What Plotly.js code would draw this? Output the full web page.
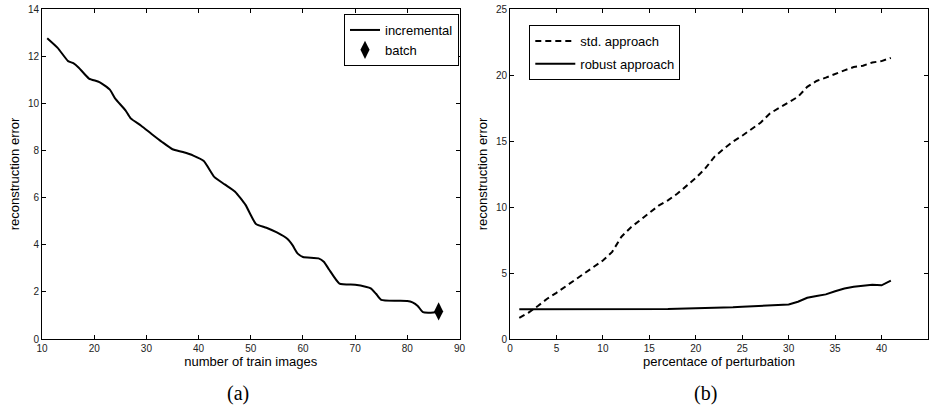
<!DOCTYPE html>
<html>
<head>
<meta charset="utf-8">
<script src="https://cdn.plot.ly/plotly-3.0.1.min.js"></script>
<style>
html,body{margin:0;padding:0;background:#fff;}
#chart{width:933px;height:407px;}
</style>
</head>
<body>
<div id="chart"></div>
<script>
// (a) incremental vs batch
const trainImages = [11,13,15,16,17,19,21,23,24,26,27,29,31,33,35,37,39,41,43,45,47,49,50,51,53,55,57,58,59,60,63,64,65,67,70,72,73,74,75,78,80,81,82,83,85,86];
const incrementalError = [12.76,12.35,11.79,11.70,11.52,11.05,10.90,10.58,10.21,9.70,9.36,9.05,8.70,8.36,8.05,7.93,7.78,7.55,6.88,6.56,6.25,5.69,5.26,4.88,4.72,4.52,4.25,3.98,3.62,3.48,3.42,3.28,2.95,2.35,2.30,2.22,2.15,1.92,1.66,1.62,1.61,1.55,1.40,1.14,1.12,1.17];
const batchX = [86];
const batchY = [1.17];

// (b) std vs robust
const perturbation = [1,2,3,4,5,6,7,8,9,10,11,12,13,14,15,16,17,18,19,20,21,22,23,24,25,26,27,28,29,30,31,32,33,34,35,36,37,38,39,40,41];
const stdError = [1.6,2.0,2.5,3.05,3.5,4.0,4.45,4.95,5.45,5.95,6.6,7.75,8.45,9.0,9.5,10.1,10.5,11.0,11.6,12.2,12.9,13.8,14.4,14.95,15.4,15.9,16.4,17.1,17.5,17.95,18.35,19.1,19.55,19.8,20.1,20.35,20.6,20.7,20.95,21.05,21.3];
const robustError = [2.25,2.25,2.26,2.25,2.25,2.25,2.24,2.24,2.24,2.23,2.24,2.25,2.24,2.25,2.26,2.26,2.28,2.30,2.31,2.32,2.32,2.36,2.38,2.40,2.44,2.48,2.50,2.52,2.56,2.62,2.82,3.12,3.26,3.38,3.62,3.82,3.96,4.03,4.11,4.07,4.42];

const W = 933, H = 407;
const px = v => v / W;
const py = v => 1 - v / H;

const axisFont = {family: 'Liberation Sans, Arial, sans-serif', size: 13, color: '#000'};
const tickFont = {family: 'Liberation Sans, Arial, sans-serif', size: 10, color: '#222'};

function axisBase(extra) {
  return Object.assign({
    showline: true, linecolor: '#000', linewidth: 1, mirror: 'ticks',
    ticks: 'inside', ticklen: 4, tickcolor: '#000', tickwidth: 1,
    showgrid: false, zeroline: false, tickfont: tickFont, fixedrange: true
  }, extra);
}

const traces = [
  {x: trainImages, y: incrementalError, type: 'scatter', mode: 'lines', name: 'incremental',
   line: {color: '#000', width: 2, shape: 'spline', smoothing: 0.5}, xaxis: 'x', yaxis: 'y', legend: 'legend'},
  {x: batchX, y: batchY, type: 'scatter', mode: 'markers', name: 'batch',
   marker: {symbol: 'diamond-tall', size: 13, color: '#000'}, xaxis: 'x', yaxis: 'y', legend: 'legend'},
  {x: perturbation, y: stdError, type: 'scatter', mode: 'lines', name: 'std. approach',
   line: {color: '#000', width: 2, dash: '6px,4px'}, xaxis: 'x2', yaxis: 'y2', legend: 'legend2', legendgroup: 'g1'},
  {x: perturbation, y: robustError, type: 'scatter', mode: 'lines', name: 'robust approach',
   line: {color: '#000', width: 2}, xaxis: 'x2', yaxis: 'y2', legend: 'legend2', legendgroup: 'g2'}
];

const layout = {
  width: W, height: H,
  margin: {l: 0, r: 0, t: 0, b: 0},
  paper_bgcolor: '#fff', plot_bgcolor: '#fff',
  showlegend: true,
  xaxis: axisBase({domain: [px(42), px(459.5)], range: [10, 90], dtick: 10, tick0: 0, anchor: 'y',
    title: {text: 'number of train images', font: axisFont, standoff: 3}}),
  yaxis: axisBase({domain: [py(339), py(9)], range: [0, 14], dtick: 2, tick0: 0, anchor: 'x',
    title: {text: 'reconstruction error', font: axisFont, standoff: 5}}),
  xaxis2: axisBase({domain: [px(510), px(928)], range: [0, 45], dtick: 5, tick0: 0, anchor: 'y2',
    title: {text: 'percentace of perturbation', font: axisFont, standoff: 3}}),
  yaxis2: axisBase({domain: [py(339), py(9)], range: [0, 25], dtick: 5, tick0: 0, anchor: 'x2',
    title: {text: 'reconstruction error', font: axisFont, standoff: 5}}),
  legend: {x: px(344), y: py(14), xanchor: 'left', yanchor: 'top',
    bgcolor: '#fff', bordercolor: '#000', borderwidth: 1,
    font: {family: 'Liberation Sans, Arial, sans-serif', size: 13, color: '#000'},
    itemwidth: 30, tracegroupgap: 0},
  legend2: {x: px(529.3), y: py(25), xanchor: 'left', yanchor: 'top',
    bgcolor: '#fff', bordercolor: '#000', borderwidth: 1,
    font: {family: 'Liberation Sans, Arial, sans-serif', size: 13, color: '#000'},
    itemwidth: 40, traceorder: 'grouped', tracegroupgap: 3, entrywidth: 173},
  annotations: [
    {text: '(a)', x: px(238), y: py(393), xref: 'paper', yref: 'paper', showarrow: false,
     xanchor: 'center', yanchor: 'middle', font: {family: 'Liberation Serif, Times New Roman, serif', size: 20, color: '#000'}},
    {text: '(b)', x: px(705.5), y: py(393), xref: 'paper', yref: 'paper', showarrow: false,
     xanchor: 'center', yanchor: 'middle', font: {family: 'Liberation Serif, Times New Roman, serif', size: 20, color: '#000'}}
  ]
};

Plotly.newPlot('chart', traces, layout, {displayModeBar: false, staticPlot: true});
</script>
</body>
</html>
